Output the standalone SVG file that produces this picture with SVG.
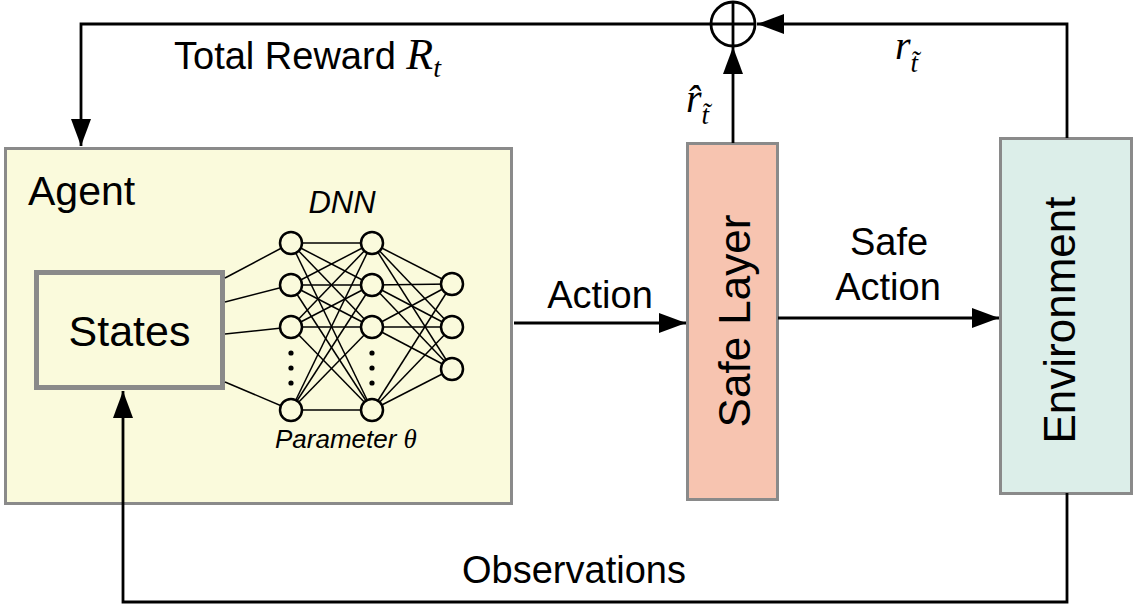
<svg xmlns="http://www.w3.org/2000/svg" width="1136" height="607" viewBox="0 0 1136 607">
<style>
.box{stroke:#8a8a8a;stroke-width:3}
.lbl{font-family:"Liberation Sans",Arial,sans-serif;fill:#000}
.math{font-family:"Liberation Serif","Times New Roman",serif;font-style:italic;fill:#000}
.conn{fill:none;stroke:#000;stroke-width:2.8}
.nn line{stroke:#000;stroke-width:1.5}
.nn circle{fill:#fafadc;stroke:#000;stroke-width:2.5}
.nn circle.dot{fill:#000;stroke:none}
</style>
<defs>
<marker id="ah" markerUnits="userSpaceOnUse" markerWidth="27" markerHeight="20" refX="27" refY="10" orient="auto">
<path d="M0,0 L27,10 L0,20 z" fill="#000"/>
</marker>
</defs>
<rect width="1136" height="607" fill="#fff"/>

<g id="agent">
<rect class="box" x="5.5" y="148.5" width="506" height="355" fill="#fafadc"/>
<text class="lbl" x="28" y="205" font-size="41">Agent</text>
</g>

<g id="states">
<rect x="36.5" y="272.5" width="186" height="115" fill="#fafadc" stroke="#8a8a8a" stroke-width="5"/>
<text class="lbl" x="129.5" y="346" font-size="43" text-anchor="middle">States</text>
</g>

<g id="dnn" class="nn">
<text class="lbl" x="342" y="213" font-size="31" font-style="italic" text-anchor="middle">DNN</text>
<line x1="225" y1="278" x2="291" y2="243"/>
<line x1="225" y1="302" x2="291" y2="285"/>
<line x1="225" y1="334" x2="291" y2="327"/>
<line x1="225" y1="382" x2="291" y2="410"/>
<g>
<line x1="291" y1="243" x2="372" y2="243"/><line x1="291" y1="243" x2="372" y2="285"/><line x1="291" y1="243" x2="372" y2="327"/><line x1="291" y1="243" x2="372" y2="410"/>
<line x1="291" y1="285" x2="372" y2="243"/><line x1="291" y1="285" x2="372" y2="285"/><line x1="291" y1="285" x2="372" y2="327"/><line x1="291" y1="285" x2="372" y2="410"/>
<line x1="291" y1="327" x2="372" y2="243"/><line x1="291" y1="327" x2="372" y2="285"/><line x1="291" y1="327" x2="372" y2="327"/><line x1="291" y1="327" x2="372" y2="410"/>
<line x1="291" y1="410" x2="372" y2="243"/><line x1="291" y1="410" x2="372" y2="285"/><line x1="291" y1="410" x2="372" y2="327"/><line x1="291" y1="410" x2="372" y2="410"/>
</g>
<g>
<line x1="372" y1="243" x2="452" y2="284"/><line x1="372" y1="243" x2="452" y2="327"/><line x1="372" y1="243" x2="452" y2="369"/>
<line x1="372" y1="285" x2="452" y2="284"/><line x1="372" y1="285" x2="452" y2="327"/><line x1="372" y1="285" x2="452" y2="369"/>
<line x1="372" y1="327" x2="452" y2="284"/><line x1="372" y1="327" x2="452" y2="327"/><line x1="372" y1="327" x2="452" y2="369"/>
<line x1="372" y1="410" x2="452" y2="284"/><line x1="372" y1="410" x2="452" y2="327"/><line x1="372" y1="410" x2="452" y2="369"/>
</g>
<circle cx="291" cy="243" r="11"/><circle cx="291" cy="285" r="11"/><circle cx="291" cy="327" r="11"/><circle cx="291" cy="410" r="11"/>
<circle cx="372" cy="243" r="11"/><circle cx="372" cy="285" r="11"/><circle cx="372" cy="327" r="11"/><circle cx="372" cy="410" r="11"/>
<circle cx="452" cy="284" r="11"/><circle cx="452" cy="327" r="11"/><circle cx="452" cy="369" r="11"/>
<circle class="dot" cx="291" cy="353" r="2.6"/><circle class="dot" cx="291" cy="368" r="2.6"/><circle class="dot" cx="291" cy="383" r="2.6"/>
<circle class="dot" cx="372" cy="353" r="2.6"/><circle class="dot" cx="372" cy="368" r="2.6"/><circle class="dot" cx="372" cy="383" r="2.6"/>
<text class="lbl" x="275" y="448" font-size="26" font-style="italic">Parameter <tspan class="math" font-size="27">θ</tspan></text>
</g>

<g id="safe-layer">
<rect class="box" x="687.5" y="143.5" width="90" height="356" fill="#f7c4b0"/>
<text class="lbl" transform="translate(750,321) rotate(-90)" font-size="44" text-anchor="middle">Safe Layer</text>
</g>

<g id="environment">
<rect class="box" x="1000.5" y="138.5" width="131" height="355" fill="#dceee9"/>
<text class="lbl" transform="translate(1075,320) rotate(-90)" font-size="44" text-anchor="middle">Environment</text>
</g>

<g id="sum">
<circle cx="733" cy="24" r="22" fill="#fff" stroke="#000" stroke-width="2.8"/>
<line x1="711" y1="24" x2="755" y2="24" stroke="#000" stroke-width="2.8"/>
<line x1="733" y1="2" x2="733" y2="46" stroke="#000" stroke-width="2.8"/>
</g>

<g id="connectors">
<path class="conn" d="M711,24 H81 V146" marker-end="url(#ah)"/>
<path class="conn" d="M1067,138 V24 H757" marker-end="url(#ah)"/>
<path class="conn" d="M733,143 V47" marker-end="url(#ah)"/>
<path class="conn" d="M514,323 H686" marker-end="url(#ah)"/>
<path class="conn" d="M778,318 H999" marker-end="url(#ah)"/>
<path class="conn" d="M1067,493 V602 H123 V391" marker-end="url(#ah)"/>
</g>

<g id="labels">
<text class="lbl" x="174" y="69" font-size="38">Total Reward <tspan class="math" font-size="44">R</tspan><tspan class="math" font-size="28" dy="8">t</tspan></text>
<text class="lbl" x="600" y="308" font-size="38" text-anchor="middle">Action</text>
<text class="lbl" x="889" y="255" font-size="38" text-anchor="middle">Safe</text>
<text class="lbl" x="888" y="300" font-size="38" text-anchor="middle">Action</text>
<text class="lbl" x="574" y="583" font-size="38" text-anchor="middle">Observations</text>
<text class="math" x="686" y="112" font-size="40">r̂<tspan font-size="27" dy="12">t̃</tspan></text>
<text class="math" x="895" y="59" font-size="40">r<tspan font-size="27" dy="13">t̃</tspan></text>
</g>
</svg>
